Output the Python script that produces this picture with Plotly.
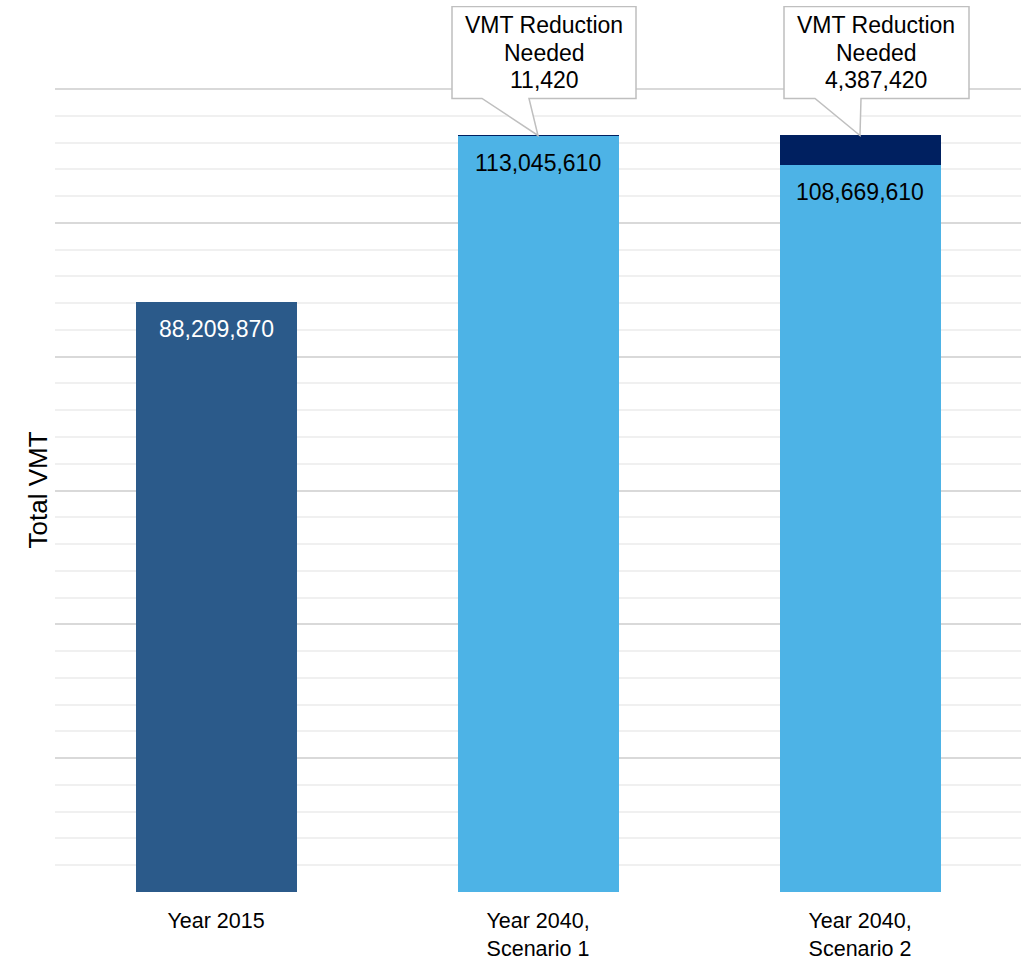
import plotly.graph_objects as go

# ---- data ----
categories = ["Year 2015", "Year 2040,<br>Scenario 1", "Year 2040,<br>Scenario 2"]
base_vmt = [88209870, 113045610, 108669610]
reduction_vmt = [0, 11420, 4387420]
callout_bars = [1, 2]
callout_lines = ["VMT Reduction", "Needed"]
y_title = "Total VMT"

# ---- styles ----
base_colors = ["#2B5A8A", "#4DB3E6", "#4DB3E6"]
label_colors = ["white", "black", "black"]
reduction_color = "#002060"
FONT = "Liberation Sans, Arial, sans-serif"
major_vals = [0, 20e6, 40e6, 60e6, 80e6, 100e6, 120e6]
minor_vals = [v * 4e6 for v in range(31)]
axis_top = 120e6 * 886 / 803

# callout geometry in pixel offsets relative to the bar top
box_left = [-86, -76]
box_right = [98, 109]
box_top = 129
box_bottom = 37
ptr_left = [-56, -45]
ptr_right = [-9, 1]
text_dx = [6, 16]
line_dy = [110, 82, 55]

fig = go.Figure()
fig.add_trace(go.Bar(x=categories, y=base_vmt, marker_color=base_colors,
                     width=0.5, hoverinfo="skip", marker_line_width=0))
fig.add_trace(go.Bar(x=categories, y=reduction_vmt, marker_color=reduction_color,
                     width=0.5, hoverinfo="skip", marker_line_width=0))

annotations = []
for i, c in enumerate(categories):
    annotations.append(dict(x=c, y=base_vmt[i], xref="x", yref="y",
                            text=f"{base_vmt[i]:,}", showarrow=False,
                            yshift=-27, yanchor="middle",
                            font=dict(family=FONT, size=23, color=label_colors[i])))

shapes = []
for k, i in enumerate(callout_bars):
    c = categories[i]
    top = base_vmt[i] + reduction_vmt[i]
    L, R = box_left[k], box_right[k]
    path = (f"M {L},{box_bottom} L {L},{box_top} L {R},{box_top} L {R},{box_bottom} "
            f"L {ptr_right[k]},{box_bottom} L 0,0 L {ptr_left[k]},{box_bottom} Z")
    shapes.append(dict(type="path", xref="x", yref="y", xsizemode="pixel",
                       ysizemode="pixel", xanchor=c, yanchor=top, path=path,
                       fillcolor="white", line=dict(color="#BFBFBF", width=1.5),
                       layer="above"))
    lines = callout_lines + [f"{reduction_vmt[i]:,}"]
    for txt, dy in zip(lines, line_dy):
        annotations.append(dict(x=c, y=top, xref="x", yref="y", text=txt,
                                showarrow=False, xshift=text_dx[k], yshift=dy,
                                yanchor="middle",
                                font=dict(family=FONT, size=23, color="black")))

# y-axis title, centred on the gridded part of the axis
annotations.append(dict(x=0, y=major_vals[-1] / 2, xref="paper", yref="y",
                        text=y_title, textangle=-90, showarrow=False,
                        xanchor="center", yanchor="middle", xshift=-18,
                        font=dict(family=FONT, size=26, color="black")))

fig.update_layout(
    barmode="stack",
    width=1025, height=960,
    margin=dict(l=55, r=4, t=6, b=68),
    plot_bgcolor="white", paper_bgcolor="white",
    showlegend=False,
    font=dict(family=FONT, size=20, color="black"),
    annotations=annotations,
    shapes=shapes,
    xaxis=dict(showgrid=False, showline=False, ticks="outside", ticklen=9,
               tickcolor="rgba(0,0,0,0)", tickfont=dict(family=FONT, size=21.5),
               automargin=False),
    yaxis=dict(range=[0, axis_top], tickmode="array", tickvals=major_vals,
               showticklabels=False, showgrid=True, gridcolor="#D9D9D9",
               gridwidth=1.5, zeroline=False, showline=False, automargin=False,
               minor=dict(tickmode="array", tickvals=minor_vals, showgrid=True,
                          gridcolor="#F0F0F0", gridwidth=1.5)),
)

fig.write_html("out.html", config={"displayModeBar": False},
               post_script="document.body.style.margin='0px';")
